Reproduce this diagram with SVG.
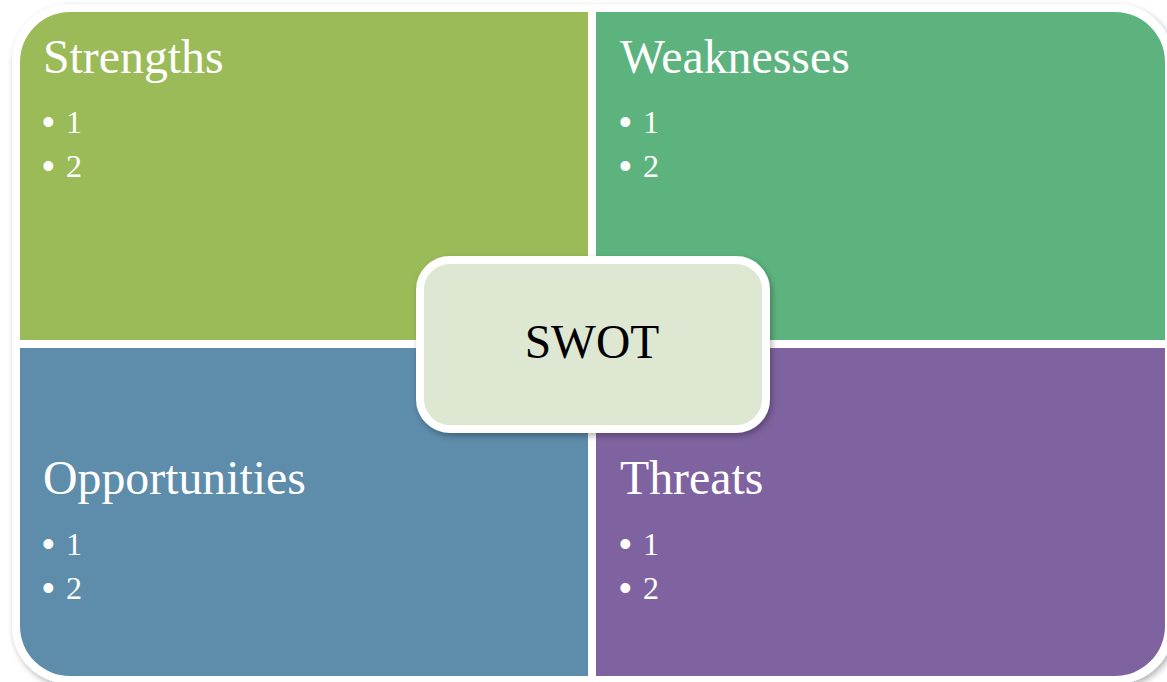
<svg xmlns="http://www.w3.org/2000/svg" width="1167" height="682" viewBox="0 0 1167 682">
<style>
.title{font-family:"Liberation Serif","Times New Roman",serif;font-size:47.8px;fill:#ffffff}
.item{font-family:"Liberation Serif","Times New Roman",serif;font-size:32px;fill:#ffffff}
.bul{font-family:"Liberation Sans",Arial,sans-serif;font-size:36px;fill:#ffffff}
.center{font-family:"Liberation Serif","Times New Roman",serif;font-size:47.5px;fill:#000000}
</style>
<defs>
<filter id="sh" x="-5%" y="-5%" width="112%" height="115%">
<feDropShadow dx="2" dy="3" stdDeviation="3" flood-color="#000" flood-opacity="0.3"/>
</filter>
</defs>
<rect width="1167" height="682" fill="#ffffff"/>
<rect x="12" y="4" width="1162" height="680" rx="58" fill="#ffffff" filter="url(#sh)"/>
<g id="strengths">
<path d="M20,62 A50,50 0 0 1 70,12 H588 V340 H20 Z" fill="#9BBB59"/>
<text class="title" x="43" y="73">Strengths</text>
<text class="bul" x="42" y="134">•</text><text class="item" x="66" y="133">1</text>
<text class="bul" x="42" y="178">•</text><text class="item" x="66" y="177">2</text>
</g>
<g id="weaknesses">
<path d="M596,12 H1115 A50,50 0 0 1 1165,62 V340 H596 Z" fill="#5CB37E"/>
<text class="title" x="620" y="73">Weaknesses</text>
<text class="bul" x="619" y="134">•</text><text class="item" x="643" y="133">1</text>
<text class="bul" x="619" y="178">•</text><text class="item" x="643" y="177">2</text>
</g>
<g id="opportunities">
<path d="M20,348 H588 V676 H70 A50,50 0 0 1 20,626 Z" fill="#5E8CAB"/>
<text class="title" x="43" y="494">Opportunities</text>
<text class="bul" x="42" y="556">•</text><text class="item" x="66" y="555">1</text>
<text class="bul" x="42" y="600">•</text><text class="item" x="66" y="599">2</text>
</g>
<g id="threats">
<path d="M596,348 H1165 V626 A50,50 0 0 1 1115,676 H596 Z" fill="#7F63A0"/>
<text class="title" x="620" y="494">Threats</text>
<text class="bul" x="619" y="556">•</text><text class="item" x="643" y="555">1</text>
<text class="bul" x="619" y="600">•</text><text class="item" x="643" y="599">2</text>
</g>
<g id="swot">
<rect x="420" y="260" width="346" height="169" rx="30" fill="#DEE7D1" stroke="#ffffff" stroke-width="8" filter="url(#sh)"/>
<text class="center" x="592" y="358" text-anchor="middle">SWOT</text>
</g>
<g id="connectors"></g>
</svg>
